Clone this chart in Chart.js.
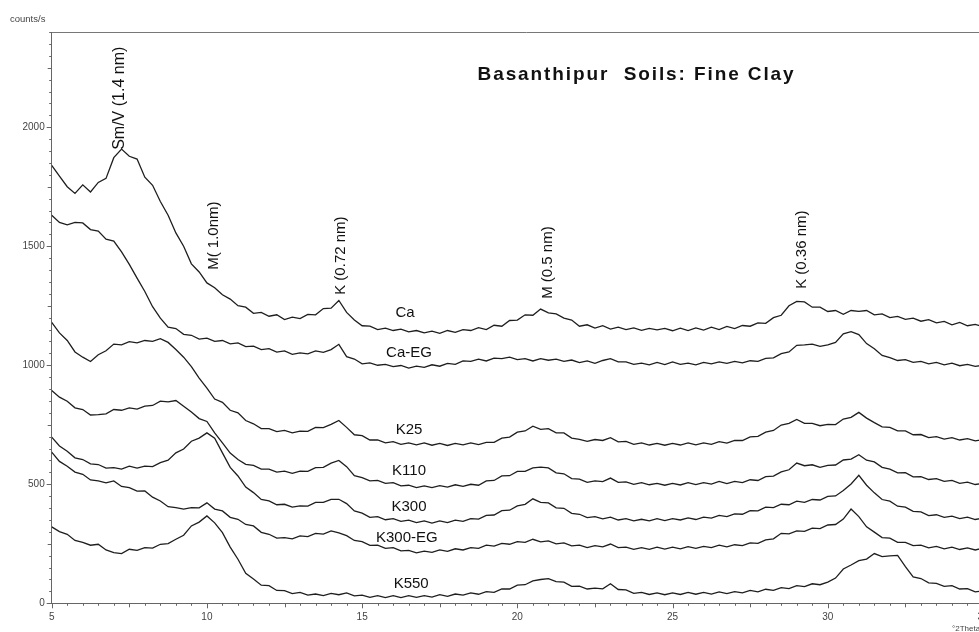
<!DOCTYPE html>
<html>
<head>
<meta charset="utf-8">
<script src="https://cdn.jsdelivr.net/npm/chart.js@4.4.1/dist/chart.umd.min.js"></script>
<style>
  html, body { margin: 0; padding: 0; background: #fff; overflow: hidden; }
  #wrap { width: 1000px; height: 632px; position: relative; }
</style>
</head>
<body>
<div id="wrap"><canvas id="xrd"></canvas></div>
<script>
// 2-theta sampling grid, 5 to 35 deg every 0.25 deg
const twoTheta = Array.from({ length: 121 }, (_, i) => 5 + i * 0.25);

// counts/s, one row per degree (x.00, x.25, x.50, x.75)
const ca = [
  1840, 1795, 1750, 1722,  1758, 1728, 1768, 1785,  1872, 1908, 1878, 1866,
  1790, 1756, 1688, 1630,  1556, 1500, 1426, 1392,  1346, 1326, 1296, 1278,
  1250, 1244, 1218, 1222,  1206, 1212, 1192, 1202,  1196, 1214, 1212, 1238,
  1240, 1272, 1222, 1190,  1166, 1164, 1150, 1156,  1146, 1152, 1140, 1146,
  1136, 1143, 1134, 1146,  1138, 1150, 1146, 1158,  1150, 1168, 1164, 1188,
  1190, 1212, 1210, 1236,  1220, 1216, 1198, 1190,  1164, 1170, 1156, 1166,
  1152, 1160, 1150, 1157,  1147, 1155, 1149, 1155,  1145, 1156, 1146, 1157,
  1148, 1160, 1150, 1163,  1154, 1167, 1164, 1178,  1176, 1200, 1210, 1250,
  1268, 1266, 1244, 1244,  1226, 1230, 1214, 1230,  1226, 1230, 1212, 1216,
  1200, 1205, 1193, 1198,  1185, 1192, 1178, 1184,  1170, 1180, 1166, 1172,
  1162
];
const caEG = [
  1630, 1600, 1590, 1600,  1598, 1570, 1564, 1530,  1522, 1476, 1424, 1366,
  1310, 1246, 1198, 1160,  1154, 1130, 1126, 1110,  1114, 1100, 1104, 1090,
  1094, 1078, 1080, 1066,  1070, 1055, 1060, 1046,  1052, 1048, 1060, 1054,
  1066, 1088, 1036, 1026,  1006, 1010, 1000, 1004,  994, 999, 988, 996,
  991, 1002, 996, 1008,  1004, 1018, 1016, 1026,  1018, 1030, 1028, 1034,
  1024, 1028, 1018, 1028,  1021, 1026, 1016, 1022,  1011, 1018, 1008, 1020,
  1028, 1014, 1014, 1004,  1009, 1002, 1012, 1003,  1014, 1004, 1009, 1002,
  1012, 1006, 1014, 1008,  1016, 1010, 1019, 1016,  1029, 1031, 1049, 1056,
  1084, 1086, 1089, 1079,  1086, 1096, 1132, 1141,  1129, 1091, 1069, 1041,
  1032, 1020, 1024, 1012,  1016, 1006, 1012, 1002,  1009, 998, 1004, 995,
  1000
];
const k25 = [
  1180, 1136, 1104, 1056,  1034, 1016, 1044, 1061,  1089, 1086, 1099, 1094,
  1104, 1100, 1112, 1096,  1066, 1034, 994, 946,  904, 858, 844, 811,
  800, 768, 754, 734,  734, 721, 726, 716,  723, 722, 739, 738,
  752, 768, 739, 708,  704, 686, 686, 674,  679, 668, 674, 666,
  674, 664, 672, 663,  672, 666, 674, 667,  676, 676, 694, 698,
  719, 724, 744, 731,  734, 716, 716, 694,  689, 680, 688, 684,
  696, 678, 680, 668,  674, 665, 672, 664,  672, 665, 674, 666,
  674, 668, 679, 673,  684, 684, 699, 701,  719, 726, 749, 756,
  772, 756, 756, 746,  752, 751, 774, 781,  802, 778, 759, 741,
  739, 724, 724, 708,  709, 696, 700, 690,  696, 686, 692, 682,
  688
];
const k110 = [
  894, 866, 849, 821,  814, 791, 793, 796,  814, 811, 821, 816,
  828, 831, 849, 846,  852, 828, 804, 776,  764, 716, 674, 631,
  604, 584, 579, 564,  564, 551, 555, 546,  555, 554, 570, 571,
  589, 600, 574, 536,  528, 514, 516, 504,  507, 493, 496, 486,
  493, 486, 494, 488,  498, 491, 500, 496,  514, 516, 535, 536,
  554, 554, 569, 572,  569, 548, 544, 524,  522, 508, 514, 511,
  526, 508, 510, 500,  507, 498, 504, 496,  504, 497, 507, 499,
  507, 501, 512, 503,  512, 507, 519, 516,  532, 534, 552, 561,
  589, 578, 582, 571,  579, 581, 602, 606,  624, 601, 594, 571,
  564, 548, 549, 531,  532, 520, 524, 512,  516, 504, 509, 499,
  504
];
const k300 = [
  698, 661, 639, 611,  604, 586, 583, 568,  570, 564, 576, 568,
  576, 574, 591, 601,  632, 648, 681, 694,  716, 694, 632, 571,
  535, 488, 465, 436,  430, 414, 416, 404,  409, 408, 424, 424,
  437, 437, 419, 388,  379, 361, 364, 351,  356, 344, 349, 339,
  346, 337, 346, 339,  349, 344, 356, 354,  369, 371, 389, 391,
  409, 416, 439, 424,  422, 401, 399, 378,  374, 360, 364, 355,
  362, 350, 356, 346,  353, 346, 356, 347,  356, 350, 359, 352,
  362, 358, 369, 364,  376, 374, 389, 388,  404, 402, 416, 414,
  429, 424, 436, 434,  449, 451, 474, 501,  538, 496, 464, 436,
  429, 408, 404, 386,  384, 368, 372, 361,  366, 356, 362, 352,
  358
];
const k300EG = [
  635, 596, 576, 551,  542, 518, 514, 506,  514, 491, 486, 471,
  472, 446, 430, 406,  402, 396, 402, 401,  422, 396, 388, 361,
  353, 331, 325, 298,  290, 274, 276, 271,  283, 280, 294, 291,
  304, 296, 284, 264,  259, 243, 244, 231,  234, 220, 222, 212,
  219, 214, 224, 218,  229, 224, 234, 231,  244, 240, 252, 248,
  259, 256, 269, 258,  262, 250, 254, 241,  244, 234, 242, 237,
  249, 234, 236, 227,  234, 227, 236, 228,  236, 229, 238, 231,
  239, 234, 244, 237,  246, 242, 254, 252,  266, 271, 294, 292,
  304, 302, 316, 314,  329, 331, 354, 396,  364, 321, 299, 276,
  274, 256, 256, 242,  244, 233, 239, 229,  236, 226, 233, 224,
  232
];
const k550 = [
  321, 301, 290, 264,  256, 244, 248, 224,  213, 209, 227, 222,
  234, 232, 248, 251,  269, 286, 325, 341,  367, 338, 297, 236,
  185, 126, 102, 76,  74, 54, 53, 41,  46, 34, 39, 32,
  42, 36, 44, 31,  34, 25, 32, 24,  32, 24, 32, 25,
  32, 26, 36, 29,  39, 34, 44, 38,  49, 46, 60, 60,
  76, 78, 94, 100,  104, 91, 89, 71,  72, 60, 64, 61,
  82, 58, 56, 42,  46, 37, 44, 36,  44, 37, 46, 38,
  46, 39, 48, 41,  49, 44, 54, 48,  59, 54, 66, 62,
  74, 70, 82, 78,  89, 106, 144, 161,  179, 186, 209, 196,
  199, 201, 154, 111,  104, 86, 84, 71,  74, 60, 62, 48,
  52
];

const seriesNames = ['Ca', 'Ca-EG', 'K25', 'K110', 'K300', 'K300-EG', 'K550'];
const seriesValues = [ca, caEG, k25, k110, k300, k300EG, k550];

// axis tick labels
const yTickLabels = [0, 500, 1000, 1500, 2000];

// peak labels (2theta, counts where the vertical text starts)
const peakLabels = ['Sm/V (1.4 nm)', 'M( 1.0nm)', 'K (0.72 nm)', 'M (0.5 nm)', 'K (0.36 nm)'];
const peakAt = [[7.18, 1905], [10.23, 1401], [14.32, 1296], [20.99, 1279], [29.16, 1321]];
// curve name labels (2theta, counts at text centre)
const nameAt = [[16.38, 1222], [16.51, 1054], [16.51, 730], [16.51, 556], [16.51, 405], [16.44, 277], [16.58, 81]];

const FONT = '"Liberation Sans", Arial, sans-serif';

// extra drawing: frame, tick marks, text
const decorations = {
  id: 'decorations',
  afterDraw(chart) {
    const ctx = chart.ctx;
    const xs = chart.scales.x, ys = chart.scales.y;
    const a = chart.chartArea;
    ctx.save();
    // top frame line
    ctx.strokeStyle = '#777';
    ctx.lineWidth = 1;
    ctx.beginPath();
    ctx.moveTo(a.left, a.top + 0.5);
    ctx.lineTo(a.right + 20, a.top + 0.5);
    ctx.stroke();
    // tick marks
    ctx.strokeStyle = '#666';
    ctx.beginPath();
    for (let v = 5; v <= 35.001; v += 0.5) {
      const px = Math.round(xs.getPixelForValue(v)) + 0.5;
      const r = Math.abs(v % 5) < 1e-6 ? 5 : (Math.abs(v % 2.5) < 1e-6 ? 4 : 2.5);
      ctx.moveTo(px, a.bottom);
      ctx.lineTo(px, a.bottom + r);
    }
    for (let v = 0; v <= 2400; v += 50) {
      const py = Math.round(ys.getPixelForValue(v)) + 0.5;
      const r = v % 500 === 0 ? 5 : (v % 250 === 0 ? 4 : 2.5);
      ctx.moveTo(a.left, py);
      ctx.lineTo(a.left - r, py);
    }
    ctx.stroke();

    // y tick labels
    ctx.fillStyle = '#444';
    ctx.font = '10px ' + FONT;
    ctx.textAlign = 'right';
    ctx.textBaseline = 'middle';
    yTickLabels.forEach(v => ctx.fillText(String(v), a.left - 7, ys.getPixelForValue(v)));

    // axis captions
    ctx.font = '9.5px ' + FONT;
    ctx.textAlign = 'left';
    ctx.textBaseline = 'alphabetic';
    ctx.fillText('counts/s', 10, 22);
    ctx.font = '8px ' + FONT;
    ctx.fillText('\u00b02Theta', 952, 631);

    // title
    ctx.fillStyle = '#111';
    ctx.font = 'bold 19px ' + FONT;
    ctx.textAlign = 'center';
    ctx.textBaseline = 'middle';
    ctx.letterSpacing = '1.9px';
    ctx.fillText('Basanthipur  Soils: Fine Clay', xs.getPixelForValue(23.84), ys.getPixelForValue(2221));
    ctx.letterSpacing = '0px';

    // curve names
    ctx.font = '15px ' + FONT;
    seriesNames.forEach((n, i) => {
      ctx.fillText(n, xs.getPixelForValue(nameAt[i][0]), ys.getPixelForValue(nameAt[i][1]));
    });

    // peak labels, vertical
    ctx.textAlign = 'left';
    peakLabels.forEach((t, i) => {
      ctx.save();
      ctx.font = (i === 0 ? '16px ' : '15px ') + FONT;
      ctx.translate(xs.getPixelForValue(peakAt[i][0]), ys.getPixelForValue(peakAt[i][1]));
      ctx.rotate(-Math.PI / 2);
      ctx.fillText(t, 0, 0);
      ctx.restore();
    });
    ctx.restore();
  }
};

const datasets = seriesValues.map((vals, i) => ({
  label: seriesNames[i],
  data: vals.map((v, j) => ({ x: twoTheta[j], y: v })),
  borderColor: '#1e1e1e',
  borderWidth: 1.3,
  pointRadius: 0,
  tension: 0,
  fill: false
}));

new Chart(document.getElementById('xrd').getContext('2d'), {
  type: 'line',
  data: { datasets: datasets },
  options: {
    responsive: true,
    maintainAspectRatio: false,
    animation: false,
    layout: { padding: { left: 0, right: 17, top: 32, bottom: 0 } },
    plugins: {
      legend: { display: false },
      tooltip: { enabled: false },
      title: { display: false }
    },
    scales: {
      x: {
        type: 'linear',
        min: 5,
        max: 35,
        afterFit: s => { s.height = 28.7; },
        border: { color: '#666', width: 1 },
        grid: { drawOnChartArea: false, drawTicks: true, tickLength: 4, tickColor: 'rgba(0,0,0,0)' },
        ticks: {
          stepSize: 5,
          autoSkip: false,
          maxRotation: 0,
          padding: 4,
          color: '#444',
          font: { family: FONT, size: 10 }
        }
      },
      y: {
        min: 0,
        max: 2400,
        afterFit: s => { s.width = 51.7; },
        border: { color: '#666', width: 1 },
        grid: { drawOnChartArea: false, drawTicks: false },
        ticks: { display: false, stepSize: 500 }
      }
    }
  },
  plugins: [decorations]
});
</script>
</body>
</html>
